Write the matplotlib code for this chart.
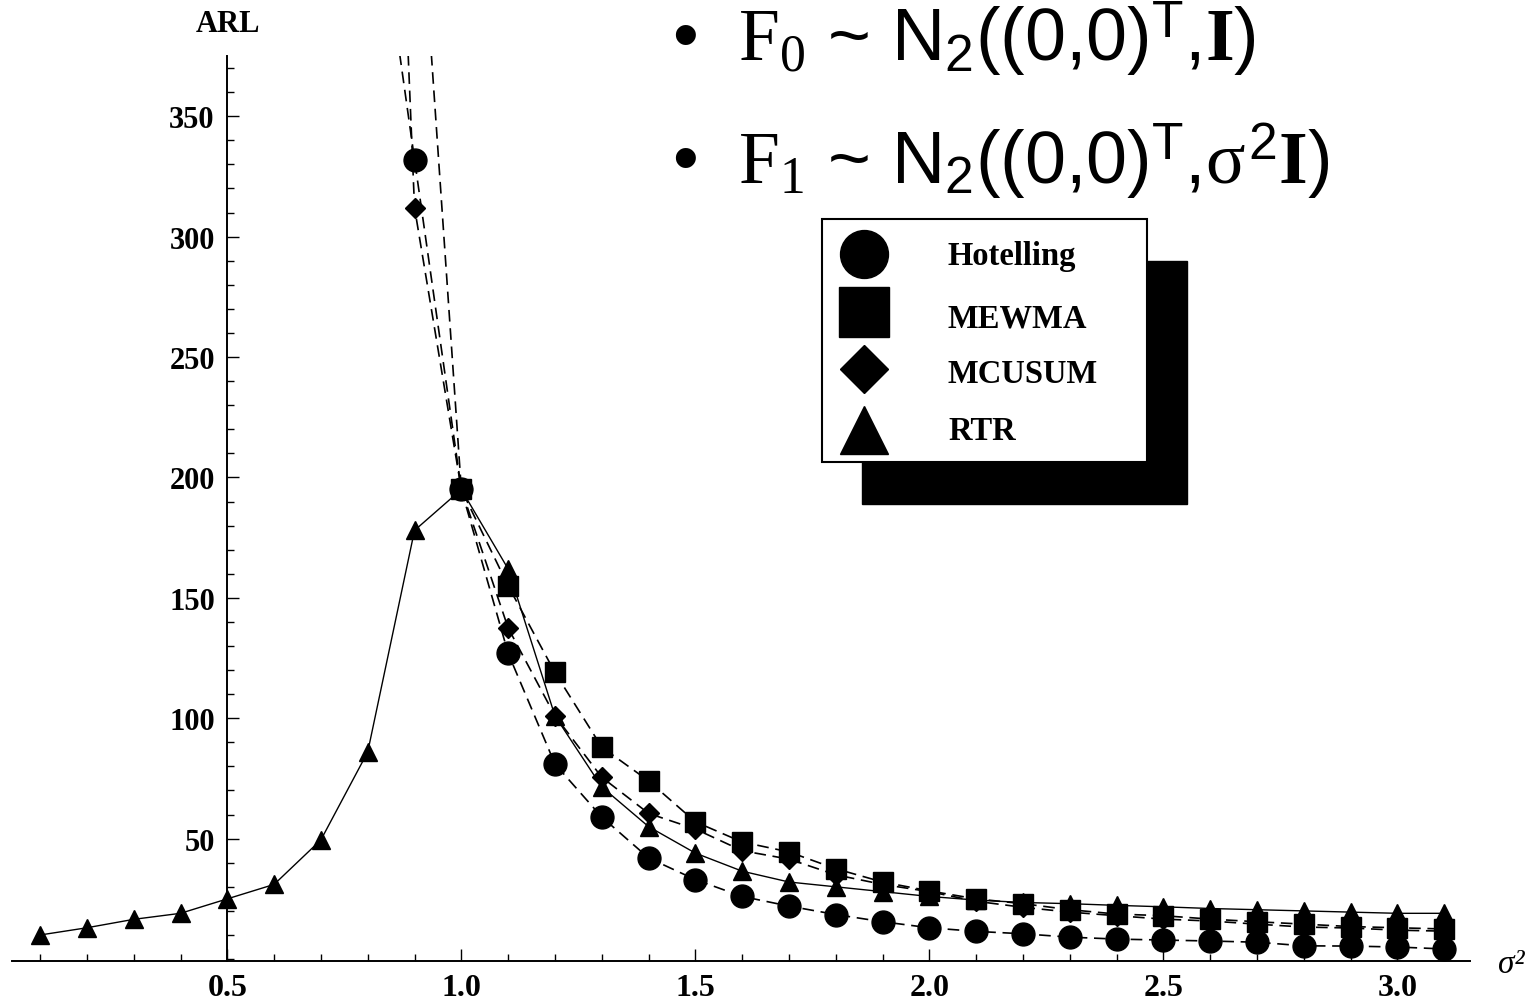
import matplotlib.pyplot as plt
import numpy as np
from matplotlib.lines import Line2D
from matplotlib.patches import Rectangle
from matplotlib.ticker import MultipleLocator

# values (ARL vs sigma^2)
x_rtr = [0.1, 0.2, 0.3, 0.4, 0.5, 0.6, 0.7, 0.8, 0.9, 1.0, 1.1, 1.2, 1.3, 1.4, 1.5, 1.6,
         1.7, 1.8, 1.9, 2.0, 2.1, 2.2, 2.3, 2.4, 2.5, 2.6, 2.7, 2.8, 2.9, 3.0, 3.1]
rtr = [10, 13, 16.5, 19, 25, 31, 49.5, 86, 178, 195, 162, 101, 71.5, 55, 44, 36.5,
       32, 30, 28, 26, 24.5, 23.5, 23, 22.3, 21.7, 21, 20.5, 20, 19.5, 19, 19]

x_hot = [0.8, 0.9, 1.0, 1.1, 1.2, 1.3, 1.4, 1.5, 1.6, 1.7, 1.8, 1.9, 2.0, 2.1, 2.2,
         2.3, 2.4, 2.5, 2.6, 2.7, 2.8, 2.9, 3.0, 3.1]
hotelling = [470, 332, 195, 127, 81, 59, 42, 33, 26, 22, 18.5, 15.5, 13, 11.5, 10.5,
             9.1, 8.3, 7.9, 7.5, 7, 5.5, 5.4, 5, 4.2]

x_mewma = [0.9, 1.0, 1.1, 1.2, 1.3, 1.4, 1.5, 1.6, 1.7, 1.8, 1.9, 2.0, 2.1, 2.2, 2.3,
           2.4, 2.5, 2.6, 2.7, 2.8, 2.9, 3.0, 3.1]
mewma = [477, 195, 155, 119, 88, 74, 57, 48.6, 44.5, 37.5, 32, 28.3, 25, 23, 20.5,
         18.7, 18, 16.6, 15.5, 14.5, 13.5, 13, 12.5]

x_mcusum = x_hot
mcusum = [780, 312, 195, 137.5, 101, 75.5, 60.5, 54, 45, 41.5, 35, 31, 28, 24, 21.5,
          19.5, 18, 16.6, 15.8, 14.5, 13.3, 12.9, 12, 11.6]

names = ['Hotelling', 'MEWMA', 'MCUSUM', 'RTR']
xticks = [0.5, 1.0, 1.5, 2.0, 2.5, 3.0]
yticks = [50, 100, 150, 200, 250, 300, 350]

plt.rcParams['mathtext.fontset'] = 'custom'
plt.rcParams['mathtext.rm'] = 'Liberation Sans'
plt.rcParams['mathtext.it'] = 'Liberation Serif'
plt.rcParams['mathtext.sf'] = 'Liberation Serif'
plt.rcParams['mathtext.bf'] = 'Liberation Serif:bold'

W, H = 1537, 1003
fig = plt.figure(figsize=(W/100, H/100), dpi=100)
ax = fig.add_axes([12/W, 1-962/H, 1458/W, 905/H])

dash = (7, 4)
ax.plot(x_hot, hotelling, marker='o', ls='--', dashes=dash, color='black', lw=1.2, ms=16.5)
ax.plot(x_mewma, mewma, marker='s', ls='--', dashes=dash, color='black', lw=1.2, ms=14.5)
ax.plot(x_mcusum, mcusum, marker='D', ls='--', dashes=dash, color='black', lw=1.2, ms=10.5)
ax.plot(x_rtr, rtr, marker='^', ls='-', color='black', lw=1.0, ms=13.5)

ax.set_xlim(0.04, 3.155)
ax.set_ylim(-0.8, 375)
ax.spines['left'].set_position(('data', 0.5))
ax.spines['right'].set_visible(False)
ax.spines['top'].set_visible(False)
ax.spines['left'].set_linewidth(1.4)
ax.spines['bottom'].set_linewidth(1.4)

ax.set_xticks(xticks)
ax.set_xticklabels(['%.1f' % v for v in xticks])
ax.set_yticks(yticks)
ax.set_yticklabels([str(v) for v in yticks])
ax.xaxis.set_minor_locator(MultipleLocator(0.1))
ax.yaxis.set_minor_locator(MultipleLocator(10))
ax.tick_params(which='both', direction='in', width=1, color='black')
ax.tick_params(which='major', length=8.5)
ax.tick_params(which='minor', length=5)
ax.tick_params(axis='x', pad=9, labelsize=23)
ax.tick_params(axis='y', pad=9, labelsize=22)
for lbl in ax.get_xticklabels() + ax.get_yticklabels():
    lbl.set_fontfamily('Liberation Serif')
    lbl.set_fontweight('bold')

fig.text(228/W, 1-25/H, 'ARL', ha='center', va='center', family='Liberation Serif',
         weight='bold', size=22)
fig.text(1511/W, 1-965/H, 'σ²', ha='center', va='center', family='Liberation Serif',
         style='italic', size=24)

# legend box with hard black shadow
fig.add_artist(Rectangle((862/W, 1-505/H), 325/W, 243/H, transform=fig.transFigure,
                         facecolor='black', edgecolor='black', zorder=2))
fig.add_artist(Rectangle((822/W, 1-463/H), 325/W, 243/H, transform=fig.transFigure,
                         facecolor='white', edgecolor='black', lw=1.5, zorder=3))
markers = ['o', 's', 'D', '^']
msizes = [34.5, 36, 24, 34]
my = [255, 313, 370, 431]
ty = [265, 327, 383, 440]
for m, s, yy, tyy, name in zip(markers, msizes, my, ty, names):
    fig.add_artist(Line2D([864/W], [1-yy/H], marker=m, ms=s, color='black', ls='none',
                          transform=fig.transFigure, zorder=4))
    fig.text(948/W, 1-tyy/H, name, va='baseline', ha='left', family='Liberation Serif',
             weight='bold', size=23.5, zorder=4)

line1 = '•  $F_{\\mathsf{0}}$ ~ $\\mathrm{N}_{2}((0{,}0)^{\\mathrm{T}}{,}\\mathbf{I})$'
line2 = '•  $F_{\\mathsf{1}}$ ~ $\\mathrm{N}_{2}((0{,}0)^{\\mathrm{T}}{,}\\sigma^{2}\\mathbf{I})$'
fig.text(672/W, 1-62/H, line1, va='baseline', ha='left', family='Liberation Sans', size=53)
fig.text(672/W, 1-184/H, line2, va='baseline', ha='left', family='Liberation Sans', size=53)

plt.savefig('out.png', dpi=100)
